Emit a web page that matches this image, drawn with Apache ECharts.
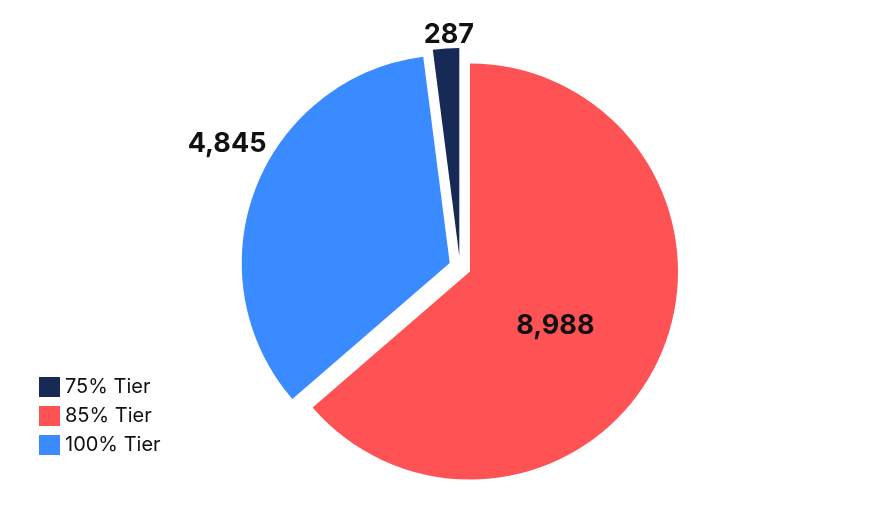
<!DOCTYPE html>
<html>
<head>
<meta charset="utf-8">
<script src="https://cdn.jsdelivr.net/npm/echarts@6/dist/echarts.min.js"></script>
<style>html,body{margin:0;padding:0;background:#fff}#c{width:888px;height:508px}</style>
</head>
<body>
<div id="c"></div>
<script>
const categories = ['75% Tier', '85% Tier', '100% Tier'];
const values = [287, 8988, 4845];
const labelTexts = ['287', '8,988', '4,845'];
const colors = ['#172a55', '#ff5254', '#3a8bff'];
const labelPositions = ['outside', 'inside', 'outside'];
const labelNudges = [[34, 1], [-12, 10], [30, -40]];

const total = values.reduce((a, b) => a + b, 0);
const startAngle = 90 + 360 * values[0] / total;

const chart = echarts.init(document.getElementById('c'), null, {renderer: 'canvas'});
chart.setOption({
  animation: false,
  backgroundColor: '#fff',
  legend: {
    orient: 'vertical',
    left: 39,
    top: 377,
    padding: 0,
    icon: 'rect',
    itemWidth: 21,
    itemHeight: 20,
    itemGap: 9,
    data: categories,
    textStyle: {fontFamily: 'Inter', fontSize: 20, color: '#111'}
  },
  series: [{
    type: 'pie',
    center: [460, 267],
    radius: [0, 208],
    startAngle: startAngle,
    clockwise: true,
    selectedMode: 'multiple',
    selectedOffset: 11,
    avoidLabelOverlap: false,
    emphasis: {disabled: true},
    labelLine: {show: false, length: 15, length2: 0},
    label: {
      fontFamily: 'Inter',
      fontWeight: 'bold',
      fontSize: 27,
      color: '#111',
      formatter: p => labelTexts[p.dataIndex]
    },
    labelLayout: p => ({dx: labelNudges[p.dataIndex][0], dy: labelNudges[p.dataIndex][1]}),
    data: categories.map((name, i) => ({
      name: name,
      value: values[i],
      selected: true,
      itemStyle: {color: colors[i]},
      label: {position: labelPositions[i]}
    }))
  }]
});
</script>
</body>
</html>
